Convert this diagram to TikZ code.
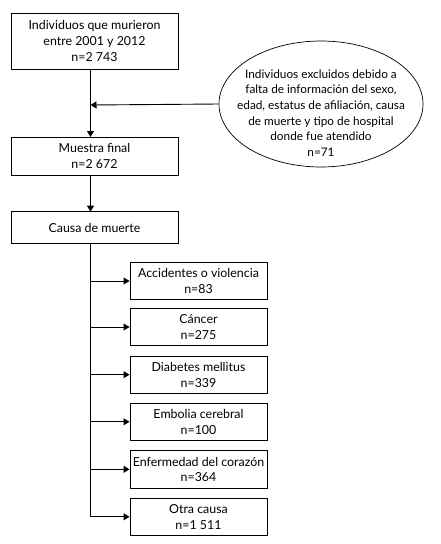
\documentclass[tikz,border=0pt]{standalone}
\usepackage{fontspec}
\setmainfont{Lato}
\usetikzlibrary{arrows.meta,shapes.geometric}
\begin{document}
\begin{tikzpicture}[x=1pt,y=-1pt,
  every node/.style={font=\fontsize{12.4}{15.6}\selectfont, align=center, inner sep=0pt},
  box/.style={draw, line width=0.9pt, minimum width=#1},
  ln/.style={line width=0.9pt},
  arr/.style={line width=0.9pt, -{Triangle[length=6pt,width=7pt]}}]
\useasboundingbox (0,0) rectangle (441,544);
% main boxes
\node[box=167pt, minimum height=56pt] (b1) at (94.5,41) {Individuos que murieron\\entre 2001 y 2012\\n=2 743};
\node[box=167pt, minimum height=38pt] (b2) at (94.5,156) {Muestra final\\n=2 672};
\node[box=167pt, minimum height=31.5pt] (b3) at (94.5,227.5) {Causa de muerte};
\node[draw, ellipse, line width=0.7pt, minimum width=204pt, minimum height=126pt] (ex) at (321,104) {};
\node[font=\fontsize{11.8}{15.6}\selectfont] (ext) at (321,113) {Individuos excluidos debido a\\falta de información del sexo,\\edad, estatus de afiliación, causa\\de muerte y tipo de hospital\\donde fue atendido\\n=71};
% branch boxes
\node[box=137pt, minimum height=37pt] (c1) at (198.5,281) {Accidentes o violencia\\n=83};
\node[box=137pt, minimum height=37.5pt] (c2) at (198.5,327) {Cáncer\\n=275};
\node[box=137pt, minimum height=37.5pt] (c3) at (198.5,374.7) {Diabetes mellitus\\n=339};
\node[box=137pt, minimum height=37pt] (c4) at (198.5,421.8) {Embolia cerebral\\n=100};
\node[box=137pt, minimum height=38pt] (c5) at (198.5,469.3) {Enfermedad del corazón\\n=364};
\node[box=137pt, minimum height=37pt] (c6) at (198.5,516.8) {Otra causa\\n=1 511};
% connectors
\coordinate (t1) at (90.5,69);
\coordinate (j1) at (90.5,105);
\draw[arr] (t1) -- (90.5,137) coordinate (e2);
\draw[arr] (ex.west) -- (j1);
\draw[arr] (90.5,175) -- (90.5,211.7);
\draw[ln] (90.5,243.3) coordinate (s3) -- (90.5,516.8) coordinate (s6);
\foreach \c in {c1,c2,c3,c4,c5,c6}{
  \draw[arr] (90.5,0 |- \c.west) -- (\c.west);
}
\end{tikzpicture}
\end{document}
